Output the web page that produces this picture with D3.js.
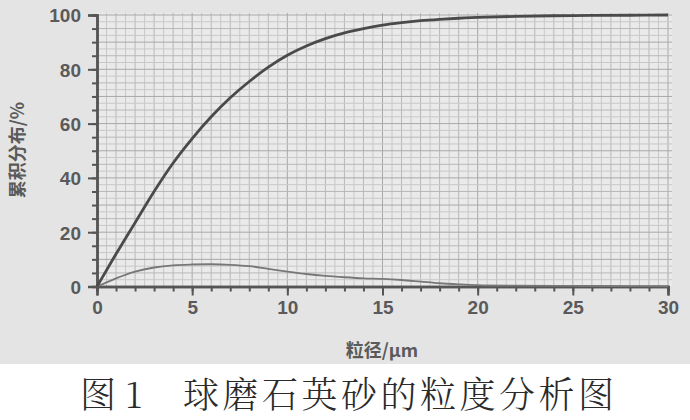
<!DOCTYPE html>
<html>
<head>
<meta charset="utf-8">
<script src="https://cdn.jsdelivr.net/npm/d3@7"></script>
<style>
  html, body { margin: 0; padding: 0; background: #ffffff; }
  svg { display: block; }
</style>
</head>
<body>
<svg id="chart" width="690" height="420"></svg>
<script>
// ---- data ----
const sizes = [0, 0.5, 1, 2, 3, 4, 5, 6, 7, 8, 9, 10, 11, 12, 13, 14, 15, 16, 17, 18, 19, 20, 22, 25, 28, 30];
const cumulative = [0, 6, 12, 23.5, 35, 45.5, 54.5, 62.5, 69.5, 75.5, 80.8, 85.2, 88.6, 91.3, 93.4, 95, 96.3, 97.2, 97.9, 98.4, 98.8, 99.1, 99.5, 99.8, 99.9, 100];
const differential = [0, 1.5, 3, 5.5, 7, 7.8, 8.1, 8.2, 8, 7.5, 6.5, 5.5, 4.6, 3.9, 3.4, 3, 2.8, 2.4, 1.8, 1.2, 0.8, 0.5, 0.3, 0.2, 0.15, 0.1];
const xTickLabels = [0, 5, 10, 15, 20, 25, 30];
const yTickLabels = [0, 20, 40, 60, 80, 100];
const xTitle = "粒径/μm";
const yTitle = "累积分布/%";
const captionFig = "图 1";
const captionText = "球磨石英砂的粒度分析图";

// ---- layout ----
const svg = d3.select("#chart");
const x = d3.scaleLinear().domain([0, 30]).range([97, 668]);
const y = d3.scaleLinear().domain([0, 100]).range([286.5, 15]);

// scanned grey band
svg.append("rect").attr("x", 0).attr("y", 0).attr("width", 690).attr("height", 364).attr("fill", "#e4e4e4");
svg.append("rect").attr("x", x(0)).attr("y", y(100) - 2).attr("width", x(30) - x(0) + 4).attr("height", y(0) - y(100) + 2).attr("fill", "#eaeaea");

// graph-paper grid
const grid = svg.append("g");
d3.range(0.5, 30.01, 0.5).forEach(v => {
  grid.append("line")
    .attr("x1", x(v)).attr("x2", x(v))
    .attr("y1", y(100) - 2).attr("y2", y(0))
    .attr("stroke", v % 5 === 0 ? "#a8a8a8" : (v % 1 === 0 ? "#b8b8b8" : "#c8c8c8"))
    .attr("stroke-width", 1);
});
d3.range(2.5, 100.01, 2.5).forEach(v => {
  grid.append("line")
    .attr("x1", x(0)).attr("x2", x(30) + 4)
    .attr("y1", y(v)).attr("y2", y(v))
    .attr("stroke", v % 10 === 0 ? "#a8a8a8" : (v % 5 === 0 ? "#b8b8b8" : "#c8c8c8"))
    .attr("stroke-width", 1);
});

// axes
const axisColor = "#555";
const labelColor = "#5a5a5a";
const xAxisMinor = d3.axisBottom(x).tickValues(d3.range(0, 30.01, 1)).tickSize(5).tickFormat("");
const xAxisMajor = d3.axisBottom(x).tickValues(xTickLabels).tickSize(9).tickPadding(5).tickFormat(d3.format("d"));
const yAxisMinor = d3.axisLeft(y).tickValues(d3.range(0, 100.01, 5)).tickSize(5).tickFormat("");
const yAxisMajor = d3.axisLeft(y).tickValues(yTickLabels).tickSize(9).tickPadding(7).tickFormat(d3.format("d"));

function styleAxis(g) {
  g.selectAll("path.domain").attr("stroke", axisColor).attr("stroke-width", 2.5);
  g.selectAll(".tick line").attr("stroke", axisColor).attr("stroke-width", 2);
  g.selectAll(".tick text")
    .attr("fill", labelColor)
    .style("font-family", "'Liberation Sans', Arial, sans-serif")
    .style("font-size", "19px")
    .style("font-weight", "bold");
}

svg.append("g").attr("transform", `translate(0,${y(0)})`).call(xAxisMinor).call(styleAxis);
svg.append("g").attr("transform", `translate(0,${y(0)})`).call(xAxisMajor).call(styleAxis);
svg.append("g").attr("transform", `translate(${x(0)},0)`).call(yAxisMinor).call(styleAxis);
svg.append("g").attr("transform", `translate(${x(0)},0)`).call(yAxisMajor).call(styleAxis)
  .selectAll(".tick text").attr("dy", "0.36em");

// lines
const lineGen = vals => d3.line()
  .x((d, i) => x(sizes[i]))
  .y(d => y(d))
  .curve(d3.curveCatmullRom.alpha(0.5))(vals);

svg.append("path").attr("d", lineGen(differential))
  .attr("fill", "none").attr("stroke", "#777").attr("stroke-width", 1.8);
svg.append("path").attr("d", lineGen(cumulative))
  .attr("fill", "none").attr("stroke", "#4a4a4a").attr("stroke-width", 2.8);

// titles
svg.append("text")
  .attr("x", 382).attr("y", 357)
  .attr("text-anchor", "middle")
  .attr("fill", labelColor)
  .style("font-family", "'Noto Sans CJK SC', sans-serif")
  .style("font-size", "18px")
  .style("font-weight", "bold")
  .text(xTitle);

svg.append("text")
  .attr("transform", "translate(24,150) rotate(-90)")
  .attr("text-anchor", "middle")
  .attr("fill", labelColor)
  .style("font-family", "'Noto Sans CJK SC', sans-serif")
  .style("font-size", "18px")
  .style("font-weight", "bold")
  .text(yTitle);

// caption
svg.append("text")
  .attr("x", 80).attr("y", 408)
  .attr("fill", "#2a2a2a")
  .style("font-family", "'Noto Serif CJK SC', 'Noto Sans CJK SC', serif")
  .style("font-size", "36px")
  .style("font-weight", "300")
  .text(captionFig);
svg.append("text")
  .attr("x", 183).attr("y", 408)
  .attr("fill", "#2a2a2a")
  .style("font-family", "'Noto Serif CJK SC', 'Noto Sans CJK SC', serif")
  .style("font-size", "36px")
  .style("font-weight", "300")
  .style("letter-spacing", "3.5px")
  .text(captionText);
</script>
</body>
</html>
